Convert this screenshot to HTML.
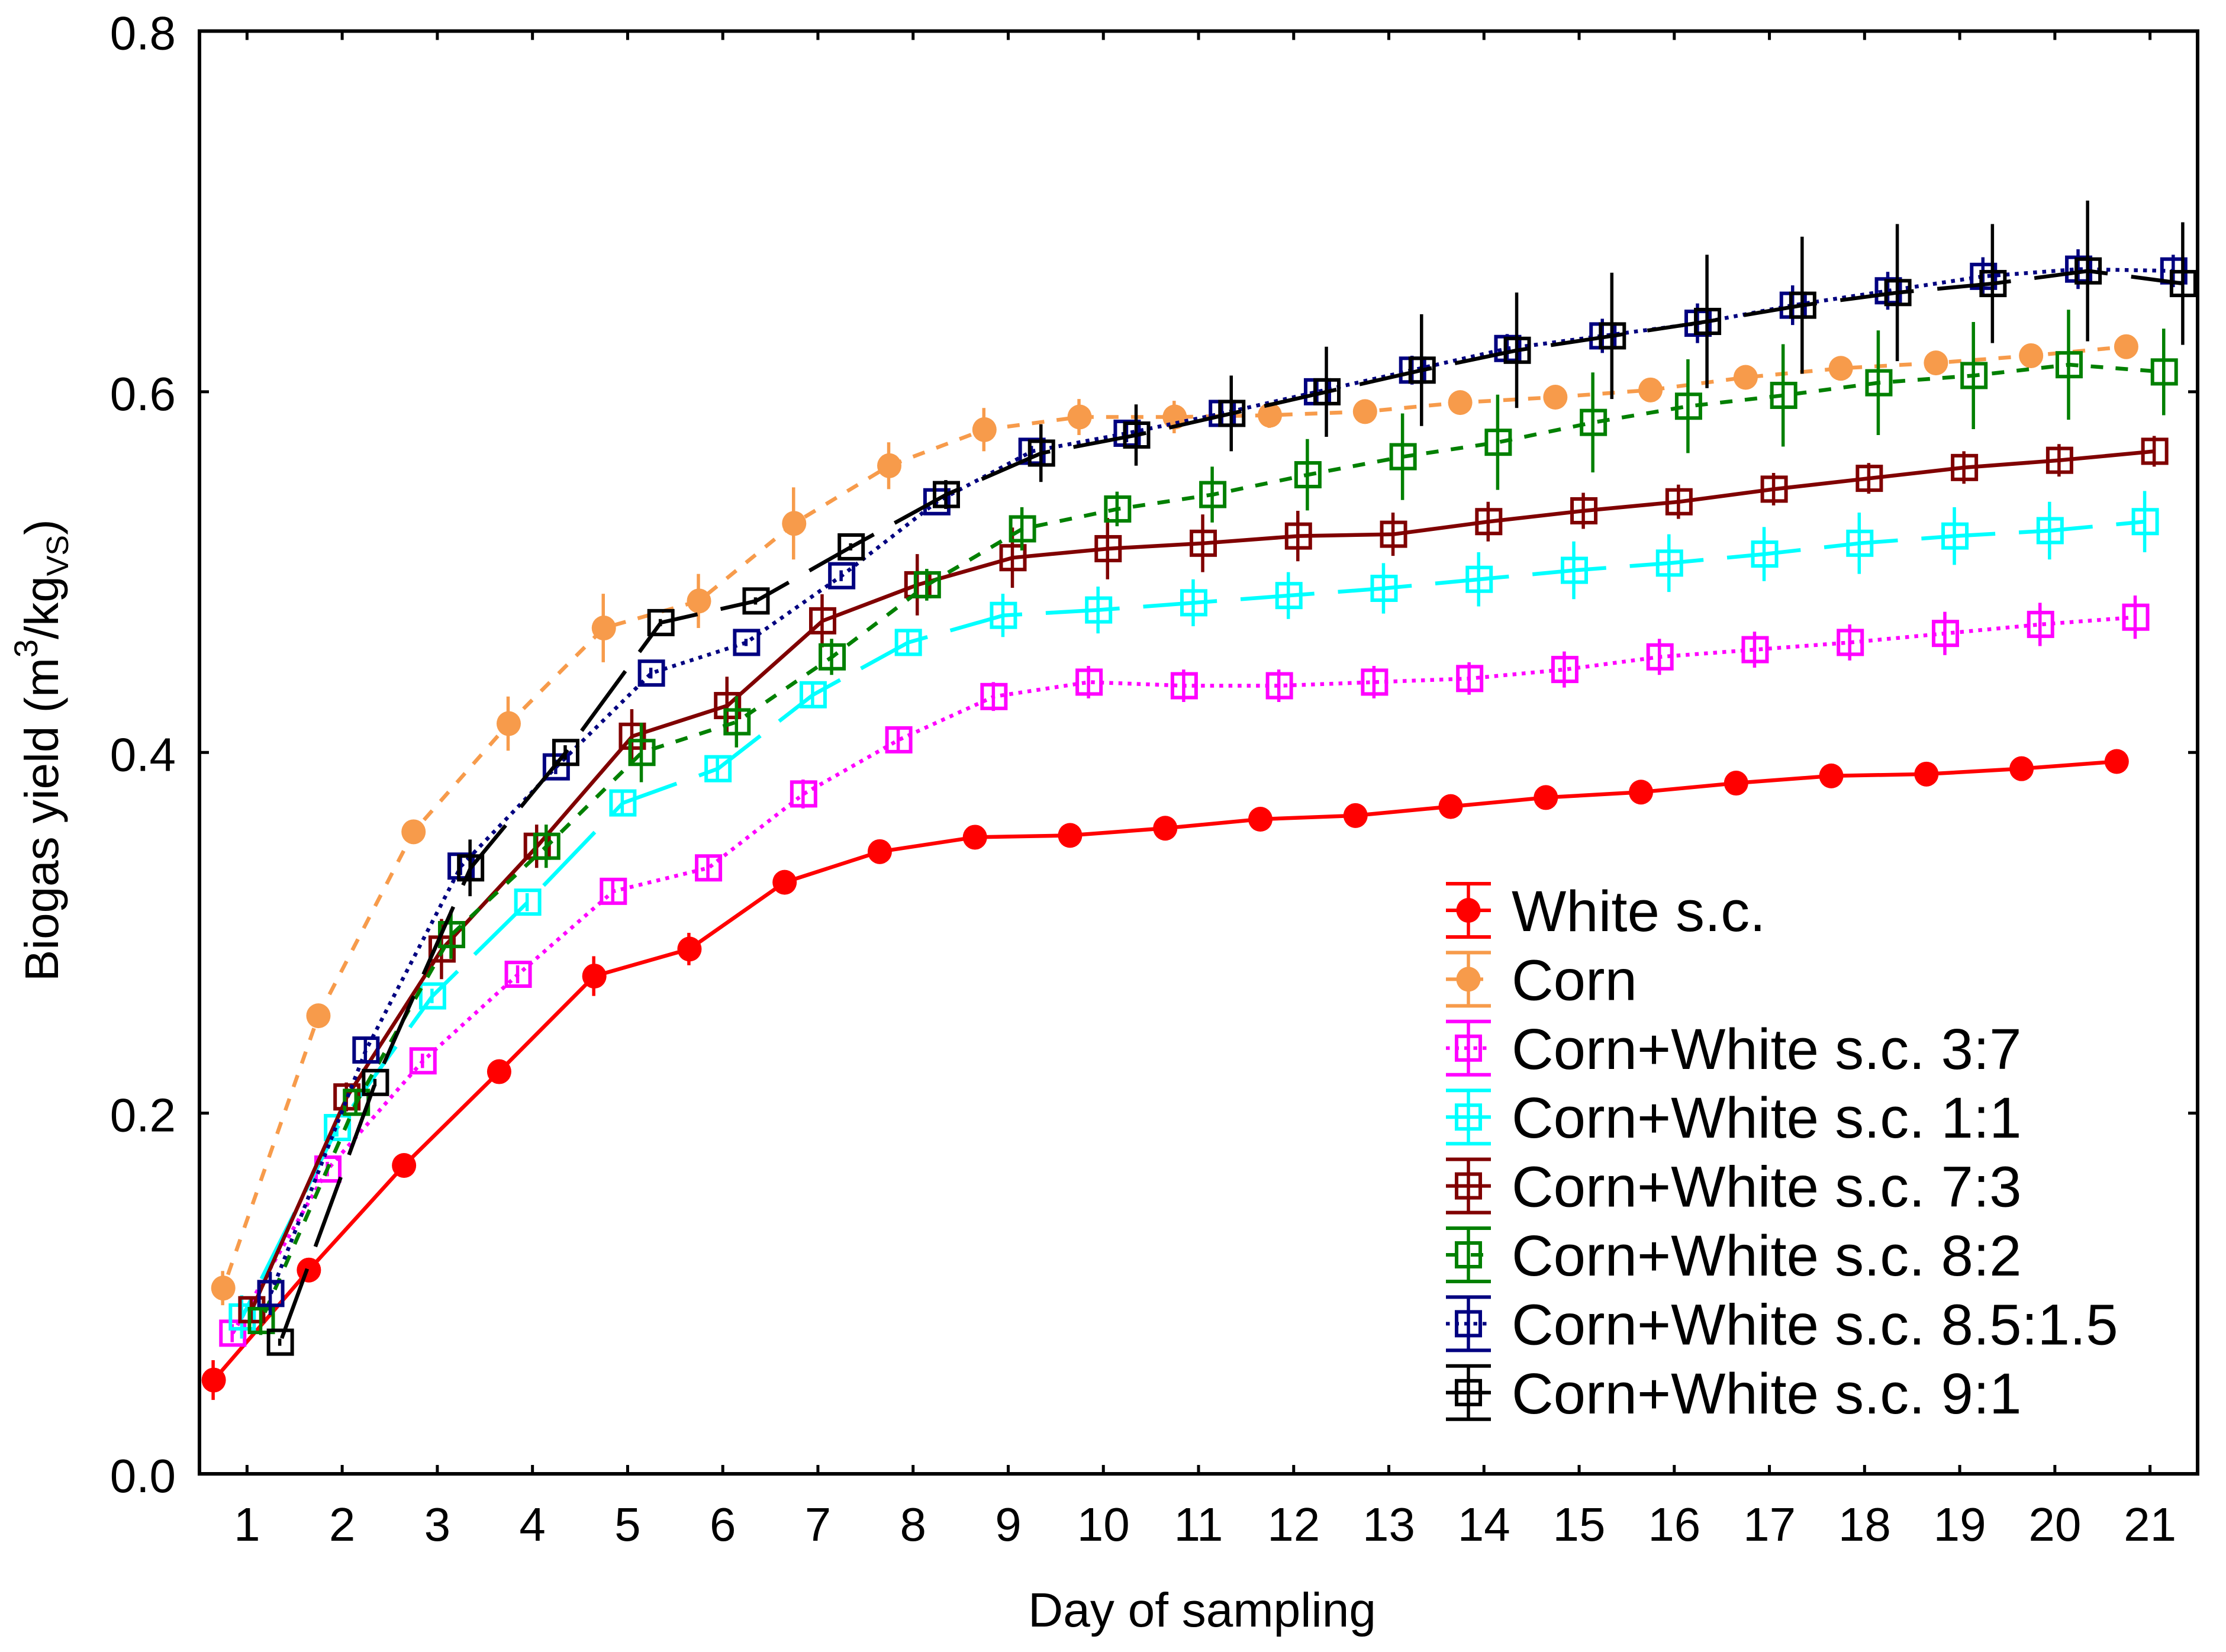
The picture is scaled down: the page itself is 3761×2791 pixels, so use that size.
<!DOCTYPE html>
<html lang="en">
<head>
<meta charset="utf-8">
<title>Biogas yield by day of sampling</title>
<style>
html,body{margin:0;padding:0;background:#fff;}
svg{display:block;}
text{font-family:"Liberation Sans",Arial,sans-serif;fill:#000;}
</style>
</head>
<body>
<svg id="chart" xmlns="http://www.w3.org/2000/svg" width="3761" height="2791" viewBox="0 0 3761 2791">
<rect x="0" y="0" width="3761" height="2791" fill="#fff"/>
<text x="1737" y="2748" font-size="82">Day of sampling</text>
<text transform="translate(98 1658) rotate(-90)" font-size="80">Biogas yield (m<tspan font-size="56" dy="-35">3</tspan><tspan dy="35">/kg</tspan><tspan font-size="52" dy="17">VS</tspan><tspan dy="-17">)</tspan></text>
<g id="plot"></g>
<g id="axes"></g>
<g id="legend"></g>
</svg>
<script>
const days = [1,2,3,4,5,6,7,8,9,10,11,12,13,14,15,16,17,18,19,20,21];
const yTickLabels = ["0.0","0.2","0.4","0.6","0.8"];
const seriesNames = ["White s.c.","Corn","Corn+White s.c. 3:7","Corn+White s.c. 1:1","Corn+White s.c. 7:3","Corn+White s.c. 8:2","Corn+White s.c. 8.5:1.5","Corn+White s.c. 9:1"];

const whiteValues = [.052,.113,.171,.223,.276,.291,.328,.345,.353,.354,.358,.363,.365,.370,.375,.378,.383,.387,.388,.391,.395];
const cornValues = [.103,.254,.356,.416,.469,.484,.527,.559,.579,.586,.586,.587,.589,.594,.597,.601,.608,.613,.616,.620,.625];
const mix37Values = [.078,.169,.229,.277,.323,.336,.377,.407,.431,.439,.437,.437,.439,.441,.446,.453,.457,.461,.466,.471,.475];
const mix11Values = [.087,.192,.265,.317,.372,.391,.432,.461,.476,.479,.483,.487,.491,.496,.501,.505,.510,.516,.520,.523,.528];
const mix73Values = [.091,.209,.291,.348,.409,.426,.473,.493,.508,.513,.516,.520,.521,.528,.534,.539,.546,.552,.558,.562,.567];
const mix82Values = [.085,.206,.299,.348,.400,.417,.453,.493,.524,.535,.543,.554,.564,.572,.583,.592,.598,.605,.609,.615,.611];
const mix85Values = [.100,.235,.337,.392,.444,.461,.498,.539,.567,.577,.588,.600,.612,.624,.631,.638,.648,.656,.664,.668,.667];
const mix91Values = [.073,.217,.336,.400,.472,.484,.514,.543,.566,.576,.588,.600,.612,.623,.631,.639,.648,.655,.660,.667,.660];

const whiteErrors = [.011,.004,.003,.004,.011,.009,.004,.004,.004,.004,.004,.004,.004,.004,.004,.004,.004,.004,.004,.004,.004];
const cornErrors = [.0095,.004,.005,.015,.019,.015,.020,.013,.012,.010,.009,.007,.005,.005,.005,.005,.005,.005,.005,.005,.005];
const mix37Errors = [.005,.004,.004,.005,.007,.006,.008,.007,.008,.009,.009,.009,.009,.009,.010,.010,.010,.010,.012,.012,.012];
const mix11Errors = [.012,.005,.004,.005,.006,.006,.006,.006,.012,.013,.013,.013,.014,.015,.016,.016,.015,.017,.016,.016,.017];
const mix73Errors = [.006,.008,.0167,.012,.015,.016,.0147,.017,.0167,.017,.016,.014,.012,.011,.010,.0095,.009,.0085,.009,.009,.0085];
const mix82Errors = [.008,.006,.0134,.012,.0165,.0142,.010,.0088,.012,.0096,.0155,.0198,.024,.0264,.0277,.026,.0284,.029,.0297,.0305,.024];
const mix85Errors = [.012,.006,.005,.004,.003,.002,.003,.002,.003,.005,.006,.007,.008,.008,.0095,.011,.011,.0105,.0106,.011,.009];
const mix91Errors = [.002,.002,.0157,.004,.002,.002,.002,.008,.016,.017,.021,.025,.031,.032,.035,.037,.038,.038,.033,.039,.034];

const seriesValues = [whiteValues,cornValues,mix37Values,mix11Values,mix73Values,mix82Values,mix85Values,mix91Values];
const seriesErrors = [whiteErrors,cornErrors,mix37Errors,mix11Errors,mix73Errors,mix82Errors,mix85Errors,mix91Errors];
const seriesColors = ["#ff0000","#f79b4b","#ff00ff","#00ffff","#800000","#008000","#000080","#000000"];
const seriesSlugs = ["white-sc","corn","mix-3-7","mix-1-1","mix-7-3","mix-8-2","mix-8-5-1-5","mix-9-1"];
const seriesDash = ["","21 21","6.5 9","125 40","","21 21","6.5 9","125 40"];
const seriesDashPhase = [0,18,0,93,0,27,0,158];
const seriesMarker = ["circle","circle","square","square","square","square","square","square"];
const seriesOffset = [-0.35,-0.25,-0.15,-0.05,0.05,0.15,0.25,0.35];

const SVG_NS = "http://www.w3.org/2000/svg";
const plotLeft = 337, plotRight = 3713, plotTop = 52.5, plotBottom = 2490;
function xScale(d){ return plotLeft + (d - 0.5) * (plotRight - plotLeft) / 21; }
function yScale(v){ return plotBottom - v * (plotBottom - plotTop) / 0.8; }
function make(tag, parent, attrs){
  const el = document.createElementNS(SVG_NS, tag);
  for (const k in attrs) el.setAttribute(k, attrs[k]);
  parent.appendChild(el);
  return el;
}
function drawMarker(parent, shape, cx, cy, color){
  let m;
  if (shape === "circle") {
    m = make("ellipse", parent, {cx:cx, cy:cy, rx:20.5, ry:21, fill:color});
  } else {
    m = make("rect", parent, {x:cx-20, y:cy-20, width:40, height:40, fill:"none", stroke:color, "stroke-width":6});
  }
  
  
}

const plot = document.getElementById("plot");
seriesValues.forEach(function(values, s){
  const color = seriesColors[s];
  const g = make("g", plot, {});
  
  
  const pts = values.map(function(v, i){ return xScale(days[i] + seriesOffset[s]) + "," + yScale(v); }).join(" ");
  const line = make("polyline", g, {points:pts, fill:"none", stroke:color, "stroke-width":6.5, "stroke-linejoin":"round"});
  if (seriesDash[s]) {
    line.setAttribute("stroke-dasharray", seriesDash[s]);
    line.setAttribute("stroke-dashoffset", seriesDashPhase[s]);
  }
  
  
  values.forEach(function(v, i){
    const cx = xScale(days[i] + seriesOffset[s]);
    const err = seriesErrors[s][i];
    const bar = make("line", g, {x1:cx-1, x2:cx-1, y1:yScale(v+err), y2:yScale(v-err), stroke:color, "stroke-width":5.5});
    
    
    drawMarker(g, seriesMarker[s], cx, yScale(v), color);
  });
});

const axes = document.getElementById("axes");
const frame = make("rect", axes, {x:plotLeft, y:plotTop, width:plotRight-plotLeft, height:plotBottom-plotTop, fill:"none", stroke:"#000", "stroke-width":6});


days.forEach(function(d){
  const x = xScale(d);
  const bottomTick = make("line", axes, {x1:x, x2:x, y1:plotBottom, y2:plotBottom-15, stroke:"#000", "stroke-width":5});
  
  
  const topTick = make("line", axes, {x1:x, x2:x, y1:plotTop, y2:plotTop+15, stroke:"#000", "stroke-width":5});
  
  
  const label = make("text", axes, {x:x, y:2603, "font-size":80, "text-anchor":"middle"});
  label.textContent = String(d);
  
  
});
yTickLabels.forEach(function(t){
  const y = yScale(parseFloat(t));
  const leftTick = make("line", axes, {x1:plotLeft, x2:plotLeft+16, y1:y, y2:y, stroke:"#000", "stroke-width":5});
  
  
  const rightTick = make("line", axes, {x1:plotRight, x2:plotRight-16, y1:y, y2:y, stroke:"#000", "stroke-width":5});
  
  
  const label = make("text", axes, {x:297, y:y+31, "font-size":80, "text-anchor":"end"});
  label.textContent = t;
  
  
});

const legend = document.getElementById("legend");


seriesNames.forEach(function(name, s){
  const cy = 1538 + s * 116.4;
  const color = seriesColors[s];
  const row = make("g", legend, {});
  
  
  const keyLine = make("line", row, {x1:2443, x2:2519, y1:cy, y2:cy, stroke:color, "stroke-width":6});
  if (seriesDash[s]) keyLine.setAttribute("stroke-dasharray", seriesDash[s] === "125 40" ? "" : seriesDash[s]);
  
  
  const stem = make("line", row, {x1:2481, x2:2481, y1:cy-45, y2:cy+45, stroke:color, "stroke-width":5.5});
  
  
  [-45, 45].forEach(function(off){
    const cap = make("line", row, {x1:2443, x2:2519, y1:cy+off, y2:cy+off, stroke:color, "stroke-width":6});
    
    
  });
  drawMarker(row, seriesMarker[s], 2481, cy, color);
  const label = make("text", row, {x:2554, y:cy+35, "font-size":97.8});
  label.textContent = name;
  
  
});
</script>
</body>
</html>
